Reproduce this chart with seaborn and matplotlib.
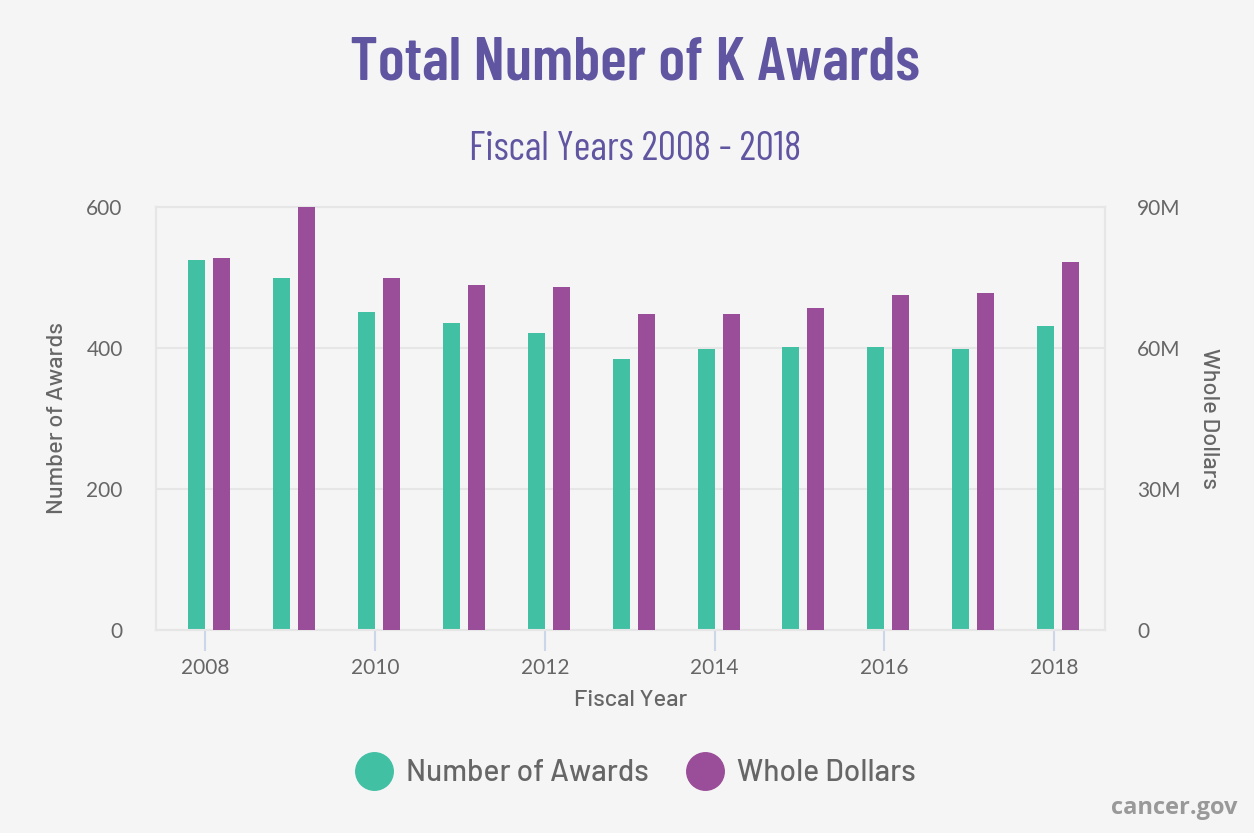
import matplotlib
matplotlib.use("Agg")
import matplotlib.pyplot as plt
import seaborn as sns
import numpy as np
import pandas as pd
from matplotlib.lines import Line2D

years = [2008, 2009, 2010, 2011, 2012, 2013, 2014, 2015, 2016, 2017, 2018]
awards = [525, 499, 451, 436, 421, 385, 398, 401, 401, 398, 431]
dollars_m = [79.1, 90.0, 74.9, 73.4, 72.9, 67.2, 67.2, 68.5, 71.2, 71.7, 78.3]
series_names = ["Number of Awards", "Whole Dollars"]
left_ticks = [0, 200, 400, 600]
right_ticks = [0, 30, 60, 90]
right_labels = ["0", "30M", "60M", "90M"]
x_ticks = [2008, 2010, 2012, 2014, 2016, 2018]

GREEN = "#41c0a4"
PURPLE = "#9a4d98"
TITLE_C = "#5f55a0"
GRAY = "#666666"
BG = "#f5f5f5"
GRID = "#e6e6e6"

sns.set_theme(style="white")
plt.rcParams["font.family"] = ["Lato", "DejaVu Sans"]
LABEL_FONT = ["Barlow", "Lato", "DejaVu Sans"]
COND_FONT = ["Barlow Condensed", "DejaVu Sans"]

fig = plt.figure(figsize=(12.54, 8.33), dpi=100, facecolor=BG)
ax = fig.add_axes([156/1254, 1-630/833, (1105-156)/1254, (630-207)/833])
ax.set_facecolor(BG)
ax2 = ax.twinx()

yrs = np.array(years, dtype=float)
df = pd.DataFrame({"x_a": yrs - 0.1, "x_d": yrs + 0.195,
                   "awards": awards, "dollars": np.array(dollars_m) * 1e6})

sns.barplot(data=df, x="x_a", y="awards", native_scale=True, width=0.2,
            color=GREEN, saturation=1, ax=ax, zorder=3, linewidth=0)
sns.barplot(data=df, x="x_d", y="dollars", native_scale=True, width=0.2,
            color=PURPLE, saturation=1, ax=ax2, zorder=3, linewidth=0)

for a in (ax, ax2):
    a.set_xlim(2007.42, 2018.6)
ax.set_ylim(0, 600)
ax2.set_ylim(0, 90e6)

ax.set_yticks(left_ticks)
ax.set_yticklabels([str(t) for t in left_ticks])
ax2.set_yticks([t * 1e6 for t in right_ticks])
ax2.set_yticklabels(right_labels)
ax.set_xticks(x_ticks)
ax.set_xticklabels([str(t) for t in x_ticks])

ax.grid(False)
ax2.grid(False)
for t in left_ticks[1:-1]:
    ax.axhline(t, color=GRID, lw=1.5, zorder=0)

for a in (ax, ax2):
    for s in a.spines.values():
        s.set_color(GRID)
        s.set_linewidth(1.5)

ax.tick_params(axis="y", length=0, pad=24, labelsize=15, labelcolor=GRAY)
ax2.tick_params(axis="y", length=0, pad=23, labelsize=15, labelcolor=GRAY)
ax.tick_params(axis="x", bottom=True, length=15, width=1.5, color="#ccd6eb", pad=5,
               labelsize=15, labelcolor=GRAY, direction="out")
ax2.tick_params(axis="x", length=0)

ax.set_xlabel("Fiscal Year", fontsize=17, color=GRAY, labelpad=9,
              family=LABEL_FONT, fontweight=500)
ax.set_ylabel("Number of Awards", fontsize=17, color=GRAY, labelpad=14,
              family=LABEL_FONT, fontweight=500)
ax2.set_ylabel("Whole Dollars", fontsize=17, color=GRAY, rotation=270,
               labelpad=28, family=LABEL_FONT, fontweight=500)

fig.text(635/1254, 1-63/833, "Total Number of K Awards", ha="center", va="center",
         fontsize=44.5, fontweight=600, color=TITLE_C, family=COND_FONT)
fig.text(635/1254, 1-150/833, "Fiscal Years 2008 - 2018", ha="center", va="center",
         fontsize=29, color=TITLE_C, fontweight=400, family=COND_FONT)

handles = [Line2D([], [], marker="o", ls="", markersize=27, color=GREEN),
           Line2D([], [], marker="o", ls="", markersize=27, color=PURPLE)]
leg = fig.legend(handles, series_names, loc="center", bbox_to_anchor=(636/1254, 1-773/833),
                 ncol=2, frameon=False, handletextpad=0.45, handlelength=1.2,
                 columnspacing=1.3, labelcolor=GRAY,
                 prop={"family": LABEL_FONT, "size": 21.5, "weight": 500})

fig.text(1238/1254, 1-808/833, "cancer.gov", ha="right", va="center",
         fontsize=17, fontweight="bold", color="#999999",
         family=["Open Sans", "DejaVu Sans"])

fig.savefig("out.png", dpi=100, facecolor=BG)
